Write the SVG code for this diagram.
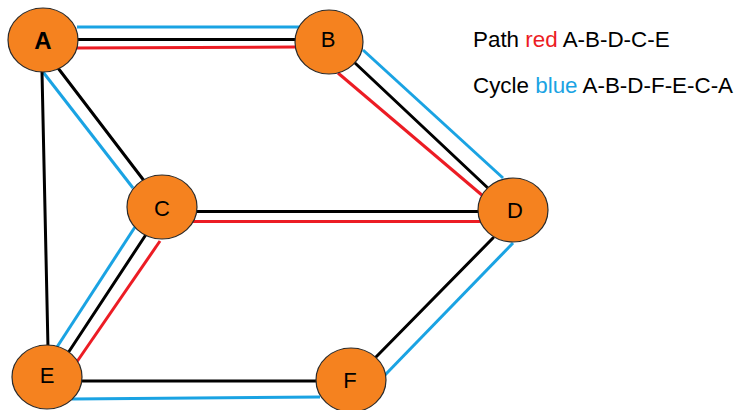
<svg xmlns="http://www.w3.org/2000/svg" width="736" height="410" viewBox="0 0 736 410">
<style>
.k{stroke:#000;stroke-width:3;fill:none;stroke-linecap:round}
.b{stroke:#1AA3E3;stroke-width:3;fill:none}
.r{stroke:#EC1C24;stroke-width:3;fill:none}
.n ellipse{fill:#F5821F;stroke:#2a2a2a;stroke-width:1.2}
.n text,.t{font-family:"Liberation Sans",Arial,sans-serif;fill:#000}
.n text{font-size:22px;text-anchor:middle}
</style>
<rect width="736" height="410" fill="#fff"/>
<g id="connectors">
<line class="b" x1="77" y1="27" x2="302" y2="27"/>
<line class="k" x1="78" y1="39.5" x2="296" y2="39.5"/>
<line class="r" x1="76" y1="48" x2="295" y2="47"/>
<line class="b" x1="363" y1="50" x2="503" y2="178"/>
<line class="k" x1="355" y1="63" x2="490" y2="190"/>
<line class="r" x1="338" y1="73" x2="483" y2="196"/>
<line class="k" x1="197" y1="211.5" x2="480" y2="211.5"/>
<line class="r" x1="192" y1="221.5" x2="482" y2="221.5"/>
<line class="b" x1="43" y1="72" x2="133" y2="188"/>
<line class="k" x1="58" y1="68" x2="145" y2="182"/>
<line class="k" x1="42" y1="72" x2="48" y2="348"/>
<line class="b" x1="135" y1="227" x2="57" y2="347"/>
<line class="k" x1="147" y1="233" x2="68" y2="353"/>
<line class="r" x1="160" y1="241" x2="74" y2="366"/>
<line class="k" x1="82" y1="381" x2="317" y2="381"/>
<line class="b" x1="72" y1="399" x2="320" y2="397"/>
<line class="k" x1="493" y1="238" x2="376" y2="357"/>
<line class="b" x1="513" y1="243" x2="385" y2="375"/>
</g>
<g id="A" class="n"><ellipse cx="43" cy="40" rx="35" ry="32"/><text x="43" y="49" style="font-weight:bold;font-size:24px">A</text></g>
<g id="B" class="n"><ellipse cx="329" cy="42" rx="34" ry="32"/><text x="328" y="47">B</text></g>
<g id="C" class="n"><ellipse cx="162" cy="207" rx="35" ry="32"/><text x="162" y="216">C</text></g>
<g id="D" class="n"><ellipse cx="513" cy="210" rx="35" ry="32"/><text x="515" y="218">D</text></g>
<g id="E" class="n"><ellipse cx="47" cy="377" rx="35" ry="32"/><text x="47" y="383">E</text></g>
<g id="F" class="n"><ellipse cx="351" cy="380" rx="35" ry="32"/><text x="350" y="388">F</text></g>
<g id="legend" class="t" style="font-size:22.4px">
<text x="473" y="47">Path <tspan fill="#EC1C24">red</tspan> A-B-D-C-E</text>
<text x="473" y="93">Cycle <tspan fill="#1AA3E3">blue</tspan> A-B-D-F-E-C-A</text>
</g>
</svg>
